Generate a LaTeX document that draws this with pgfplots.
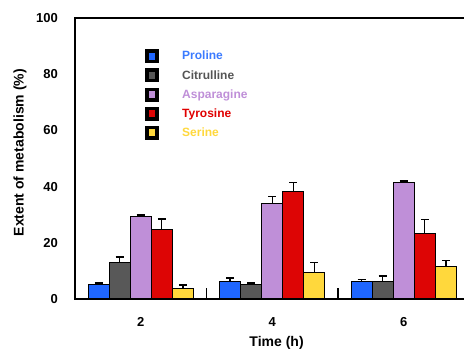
\documentclass[border=0pt]{standalone}
\usepackage{pgfplots}
\pgfplotsset{compat=1.18}
\usepackage{fontspec}
\setmainfont{Liberation Sans}
\definecolor{cpro}{HTML}{1F66FF}
\definecolor{ccit}{HTML}{585858}
\definecolor{casp}{HTML}{BF8FD8}
\definecolor{ctyr}{HTML}{DD0505}
\definecolor{cser}{HTML}{FFD83C}
\definecolor{tpro}{HTML}{3B7BFF}
\definecolor{tcit}{HTML}{555555}
\definecolor{tasp}{HTML}{BF8FD8}
\definecolor{ttyr}{HTML}{E00000}
\definecolor{tser}{HTML}{FFD83C}
\begin{document}
\begin{tikzpicture}
\useasboundingbox (-75pt,-59pt) rectangle (389pt,299pt);
\begin{axis}[
  at={(0pt,0pt)}, anchor=south west,
  scale only axis, width=394.5pt, height=281pt,
  xmin=-0.5, xmax=2.5, ymin=0, ymax=100,
  ybar, bar width=0.16,
  axis line style={line width=1.1pt, black},
  xtick={0,1,2}, xticklabels={2,4,6},
  ytick={0,20,40,60,80,100},
  major tick length=0pt,
  tick pos=left,
  extra x ticks={0.5,1.5}, extra x tick labels={},
  extra x tick style={major tick length=11pt, tick align=inside, tick style={line width=1.1pt, black}},
  /pgf/number format/assume math mode=true,
  ticklabel style={font=\fontsize{13}{15}\selectfont\bfseries},
  yticklabel style={anchor=east, inner sep=0pt, xshift=-17pt},
  xticklabel style={anchor=north, inner sep=0pt, yshift=-18pt},
  xlabel={Time (h)},
  ylabel={Extent of metabolism (\%)},
  label style={font=\fontsize{14}{16}\selectfont\bfseries},
  xlabel style={at={(axis description cs:0.511,-0.1566)}, anchor=center},
  ylabel style={at={(axis description cs:-0.1394,0.521)}, anchor=center},
  legend style={at={(axis description cs:0.1774,0.889)}, anchor=north west,
    draw=none, fill=none, inner sep=0pt, row sep=5.1pt, column sep=23pt,
    font=\fontsize{12}{14}\selectfont\bfseries,
    nodes={inner sep=0pt, anchor=west}},
  legend cell align=left,
  legend image code/.code={\fill[black] (0pt,-6.5pt) rectangle (13pt,6.5pt);
     \fill[#1,draw=none] (3.5pt,-3.5pt) rectangle (9.5pt,3.5pt);},
  every axis plot/.append style={draw=black, line width=1pt,
    error bars/y dir=plus, error bars/y explicit,
    error bars/error bar style={line width=1.4pt, black},
    error bars/error mark options={rotate=90, mark size=4pt, line width=1.4pt, black}},
]
\addplot[fill=cpro, bar shift=-0.32] coordinates {(0,5.2) +- (0,0.5) (1,6.3) +- (0,1.2) (2,6.2) +- (0,0.8)};
\addplot[fill=ccit, bar shift=-0.16] coordinates {(0,12.9) +- (0,2.1) (1,5.1) +- (0,0.6) (2,6.3) +- (0,1.9)};
\addplot[fill=casp, bar shift=0] coordinates {(0,29.2) +- (0,0.7) (1,34.0) +- (0,2.4) (2,41.4) +- (0,0.6)};
\addplot[fill=ctyr, bar shift=0.16] coordinates {(0,24.9) +- (0,3.5) (1,38.2) +- (0,3.3) (2,23.2) +- (0,5.0)};
\addplot[fill=cser, bar shift=0.32] coordinates {(0,3.8) +- (0,1.2) (1,9.5) +- (0,3.4) (2,11.5) +- (0,2.1)};
\legend{\textcolor{tpro}{Proline},\textcolor{tcit}{Citrulline},\textcolor{tasp}{Asparagine},\textcolor{ttyr}{Tyrosine},\textcolor{tser}{Serine}}
\end{axis}
\end{tikzpicture}
\end{document}
